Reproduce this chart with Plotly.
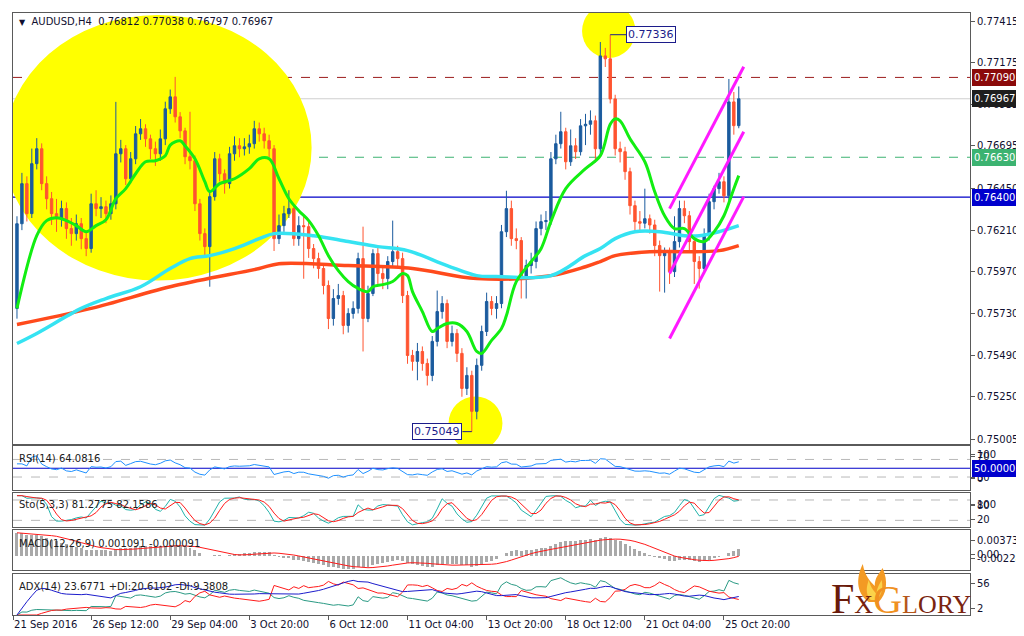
import numpy as np
import pandas as pd
import plotly.graph_objects as go

# ---------------- data ----------------
symbol_title = "AUDUSD,H4"
header_ohlc = ["0.76812", "0.77038", "0.76797", "0.76967"]

open_first = 0.75759
close = [0.76247, 0.76478, 0.76305, 0.76593, 0.76679, 0.76478, 0.76391, 0.76305, 0.76276, 0.76334,
         0.76219, 0.76190, 0.76247, 0.76161, 0.76104, 0.76362, 0.76334, 0.76345, 0.76305, 0.76362,
         0.76650, 0.76679, 0.76506, 0.76621, 0.76765, 0.76794, 0.76736, 0.76679, 0.76650, 0.76736,
         0.76909, 0.76978, 0.76863, 0.76782, 0.76633, 0.76610, 0.76362, 0.76190, 0.76115, 0.76403,
         0.76621, 0.76535, 0.76478, 0.76650, 0.76696, 0.76679, 0.76690, 0.76708, 0.76794, 0.76765,
         0.76725, 0.76679, 0.76161, 0.76236, 0.76305, 0.76334, 0.76161, 0.76236, 0.76230, 0.76104,
         0.76046, 0.75989, 0.75891, 0.75701, 0.75816, 0.75833, 0.75661, 0.75730, 0.75759, 0.76046,
         0.75701, 0.75845, 0.76075, 0.75960, 0.75931, 0.76029, 0.76086, 0.76046, 0.75833, 0.75488,
         0.75454, 0.75511, 0.75442, 0.75373, 0.75569, 0.75741, 0.75787, 0.75569, 0.75615, 0.75500,
         0.75298, 0.75373, 0.75166, 0.75431, 0.75626, 0.75799, 0.75759, 0.75787, 0.76201, 0.76334,
         0.76161, 0.76150, 0.75931, 0.76006, 0.76029, 0.76219, 0.76259, 0.76265, 0.76621, 0.76708,
         0.76777, 0.76604, 0.76696, 0.76662, 0.76811, 0.76820, 0.76840, 0.76679, 0.77214, 0.77197,
         0.76966, 0.76679, 0.76662, 0.76547, 0.76351, 0.76259, 0.76250, 0.76276, 0.76240, 0.76121,
         0.76063, 0.76080, 0.75971, 0.76144, 0.76334, 0.76293, 0.76144, 0.76029, 0.75989, 0.76178,
         0.76374, 0.76449, 0.76489, 0.76408, 0.76949, 0.76812, 0.76967]
high = [0.76290, 0.76540, 0.76520, 0.76680, 0.76740, 0.76710, 0.76520, 0.76430, 0.76390, 0.76380,
        0.76370, 0.76280, 0.76300, 0.76280, 0.76200, 0.76420, 0.76440, 0.76400, 0.76380, 0.76410,
        0.76949, 0.76730, 0.76700, 0.76660, 0.76810, 0.76850, 0.76820, 0.76760, 0.76720, 0.76790,
        0.76950, 0.77020, 0.77093, 0.76890, 0.76800, 0.76892, 0.76640, 0.76390, 0.76220, 0.76430,
        0.76660, 0.76650, 0.76560, 0.76690, 0.76750, 0.76740, 0.76740, 0.76760, 0.76840, 0.76830,
        0.76800, 0.76760, 0.76700, 0.76300, 0.76350, 0.76440, 0.76360, 0.76290, 0.76300, 0.76260,
        0.76130, 0.76080, 0.76010, 0.75920, 0.75870, 0.75900, 0.75860, 0.75760, 0.75800, 0.76080,
        0.76230, 0.75890, 0.76100, 0.76110, 0.76000, 0.76060, 0.76265, 0.76120, 0.76080, 0.75860,
        0.75520, 0.75560, 0.75540, 0.75470, 0.75600, 0.75862, 0.75830, 0.75810, 0.75660, 0.75640,
        0.75530, 0.75420, 0.75400, 0.75470, 0.75660, 0.75850, 0.75830, 0.75830, 0.76240, 0.76437,
        0.76380, 0.76220, 0.76170, 0.76040, 0.76080, 0.76260, 0.76300, 0.76320, 0.76660, 0.76760,
        0.76892, 0.76800, 0.76790, 0.76740, 0.76850, 0.76880, 0.76900, 0.76870, 0.77294, 0.77260,
        0.77336, 0.76990, 0.76720, 0.76690, 0.76570, 0.76380, 0.76320, 0.76449, 0.76300, 0.76270,
        0.76150, 0.76110, 0.76110, 0.76290, 0.76380, 0.76380, 0.76320, 0.76170, 0.76060, 0.76220,
        0.76420, 0.76466, 0.76540, 0.76520, 0.77081, 0.77006, 0.77038]
low = [0.75700, 0.76210, 0.76260, 0.76280, 0.76560, 0.76440, 0.76330, 0.76240, 0.76200, 0.76230,
       0.76160, 0.76120, 0.76150, 0.76100, 0.76060, 0.76080, 0.76290, 0.76280, 0.76250, 0.76270,
       0.76330, 0.76600, 0.76470, 0.76480, 0.76590, 0.76730, 0.76690, 0.76620, 0.76580, 0.76610,
       0.76700, 0.76880, 0.76830, 0.76740, 0.76590, 0.76560, 0.76320, 0.76150, 0.76060, 0.75884,
       0.76380, 0.76490, 0.76420, 0.76450, 0.76610, 0.76630, 0.76640, 0.76650, 0.76680, 0.76720,
       0.76680, 0.76630, 0.76090, 0.76130, 0.76200, 0.76280, 0.76120, 0.76120, 0.75930, 0.76050,
       0.75990, 0.75930, 0.75840, 0.75640, 0.75660, 0.75780, 0.75610, 0.75620, 0.75700, 0.75730,
       0.75511, 0.75680, 0.75830, 0.75900, 0.75870, 0.75870, 0.76000, 0.76000, 0.75790, 0.75440,
       0.75400, 0.75345, 0.75400, 0.75315, 0.75340, 0.75540, 0.75700, 0.75530, 0.75540, 0.75450,
       0.75250, 0.75260, 0.75049, 0.75120, 0.75400, 0.75600, 0.75720, 0.75700, 0.75760, 0.76170,
       0.76120, 0.76100, 0.75816, 0.75816, 0.75960, 0.75990, 0.76180, 0.76210, 0.76240, 0.76590,
       0.76680, 0.76560, 0.76580, 0.76620, 0.76640, 0.76700, 0.76760, 0.76600, 0.76640, 0.77150,
       0.76940, 0.76640, 0.76600, 0.76500, 0.76300, 0.76200, 0.76200, 0.76220, 0.76190, 0.76060,
       0.75856, 0.75850, 0.75900, 0.75940, 0.76110, 0.76250, 0.76080, 0.75900, 0.75873, 0.75960,
       0.76150, 0.76330, 0.76420, 0.76370, 0.76380, 0.76760, 0.76797]

# moving averages as drawn on the chart (bar index, price)
green_ma_bar = [0, 4, 6, 8, 10, 12, 14, 16, 18, 20, 22, 24, 26, 28, 30, 31, 33, 34, 36, 38, 39, 41, 44, 47,
                49, 51, 53, 55, 57, 59, 61, 63, 65, 67, 69, 71, 72, 74, 76, 78, 79, 80, 82, 84, 85, 87, 89,
                91, 93, 94, 96, 98, 99, 101, 104, 106, 108, 111, 115, 118, 120, 121, 122, 124, 127, 129,
                131, 133, 135, 137, 139, 141, 143, 145, 146]
green_ma_val = [0.75759, 0.76178, 0.76265, 0.76282, 0.76265, 0.76236, 0.76201, 0.76236, 0.76270, 0.76391,
                0.76449, 0.76535, 0.76604, 0.76610, 0.76639, 0.76700, 0.76725, 0.76696, 0.76621, 0.76489,
                0.76432, 0.76478, 0.76506, 0.76564, 0.76621, 0.76621, 0.76506, 0.76391, 0.76322, 0.76265,
                0.76178, 0.76063, 0.75977, 0.75914, 0.75874, 0.75856, 0.75884, 0.75896, 0.75914, 0.75960,
                0.75948, 0.75856, 0.75741, 0.75626, 0.75643, 0.75672, 0.75672, 0.75626, 0.75511, 0.75500,
                0.75575, 0.75643, 0.75718, 0.75913, 0.76028, 0.76103, 0.76259, 0.76449, 0.76564, 0.76639,
                0.76820, 0.76851, 0.76840, 0.76736, 0.76604, 0.76431, 0.76293, 0.76219, 0.76219, 0.76161,
                0.76144, 0.76200, 0.76293, 0.76449, 0.76524]
cyan_ma_bar = [0, 4, 13, 18, 25, 31, 35, 39, 44, 49, 52, 60, 67, 73, 79, 87, 93, 97, 108, 115, 118, 121,
               125, 130, 135, 138, 142, 146]
cyan_ma_val = [0.75557, 0.75615, 0.75759, 0.75816, 0.75884, 0.75989, 0.76046, 0.76063, 0.76104, 0.76161,
               0.76190, 0.76178, 0.76144, 0.76115, 0.76092, 0.76006, 0.75948, 0.75943, 0.75948, 0.76063,
               0.76104, 0.76161, 0.76201, 0.76201, 0.76178, 0.76178, 0.76201, 0.76236]
red_ma_bar = [0, 15, 32, 49, 53, 67, 80, 93, 108, 115, 118, 121, 128, 135, 142, 146]
red_ma_val = [0.75666, 0.75759, 0.75891, 0.75989, 0.76017, 0.76006, 0.75989, 0.75931, 0.75948, 0.75999,
              0.76029, 0.76063, 0.76086, 0.76086, 0.76092, 0.76121]

# horizontal levels on the chart
level_resist = 0.77090
level_bid = 0.76967
level_mid = 0.76630
level_support = 0.76400
swing_high = 0.77336
swing_high_bar = 120
swing_low = 0.75049
swing_low_bar = 92

# trend channel drawn by the analyst (bar index, price)
channel_bar = [132, 147]
channel_upper = [0.76334, 0.77151]
channel_middle = [0.75960, 0.76777]
channel_lower = [0.75586, 0.76403]

# highlighted zones (bar range, price range)
zone_big = ([-2.6, 59.6], [0.75920, 0.77450])
zone_low = ([87.3, 98.2], [0.74942, 0.75252])
zone_high = ([114.3, 125.1], [0.77202, 0.77513])

price_ticks = [0.77415, 0.77175, 0.76935, 0.76695, 0.76450, 0.76210, 0.75970, 0.75730, 0.75490, 0.75250, 0.75005]
time_tick_bars = [-0.8, 15, 31, 47, 63, 79, 95, 111, 127, 143]
time_tick_labels = ["21 Sep 2016", "26 Sep 12:00", "29 Sep 04:00", "3 Oct 20:00", "6 Oct 12:00",
                    "11 Oct 04:00", "13 Oct 20:00", "18 Oct 12:00", "21 Oct 04:00", "25 Oct 20:00"]

rsi_text = "RSI(14) 64.0816"
sto_text = "Sto(5,3,3) 81.2775 82.1586"
macd_text = "MACD(12,26,9) 0.001091 -0.000091"
adx_text = "ADX(14) 23.6771 +DI:20.6102 -DI:9.3808"
macd_ema_seed = (0.7628, 0.7588)   # prior EMA(12), EMA(26) levels before the first bar

# ---------------- indicators ----------------
n = len(close)
bars = list(range(n))
opens = [open_first] + close[:-1]
c = pd.Series(close)
h = pd.Series(high)
l = pd.Series(low)


def wilder(s, p):
    return s.ewm(alpha=1.0 / p, adjust=False).mean()


d = c.diff().fillna(0)
up = wilder(d.clip(lower=0), 14)
dn = wilder((-d).clip(lower=0), 14)
rsi = (100 - 100 / (1 + up / dn.replace(0, np.nan))).fillna(60)

ll = l.rolling(5, min_periods=1).min()
hh = h.rolling(5, min_periods=1).max()
k = 100 * (c - ll).rolling(3, min_periods=1).sum() / (hh - ll).rolling(3, min_periods=1).sum()
ds = k.rolling(3, min_periods=1).mean()


def ema(vals, p, seed):
    a = 2.0 / (p + 1)
    e = seed
    out = []
    for v in vals:
        e = e + a * (v - e)
        out.append(e)
    return out


macd = [float(a - b) for a, b in zip(ema(close, 12, macd_ema_seed[0]), ema(close, 26, macd_ema_seed[1]))]
signal = [float(v) for v in pd.Series(macd).rolling(9, min_periods=1).mean()]

pc = c.shift(1).fillna(open_first)
tr = pd.concat([h - l, (h - pc).abs(), (l - pc).abs()], axis=1).max(axis=1)
upm = h.diff().fillna(0)
dnm = (-l.diff()).fillna(0)
pdm = pd.Series(np.where((upm > dnm) & (upm > 0), upm, 0.0))
ndm = pd.Series(np.where((dnm > upm) & (dnm > 0), dnm, 0.0))
atr = wilder(tr, 14)
pdi = 100 * wilder(pdm, 14) / atr
ndi = 100 * wilder(ndm, 14) / atr
dx = (100 * (pdi - ndi).abs() / (pdi + ndi)).fillna(0)
adx = wilder(dx, 14)

# ---------------- layout geometry ----------------
PL, PR, PT, PB = 4, 968, 4, 607
FIRST_PX, BAR_PX = 8, 4.98


def fy(py):
    return (PB - py) / (PB - PT)


def fx(px):
    return (px - PL) / (PR - PL)


xr = [(PL - FIRST_PX) / BAR_PX, (PR - FIRST_PX) / BAR_PX]
panels = {"y": (4, 436), "y2": (438, 482), "y3": (485, 519), "y4": (522, 562), "y5": (566, 607)}
main_range = [0.774841 - 436 * 0.00005752, 0.774841 - 4 * 0.00005752]
adx_top = float(max(adx.max(), pdi.max(), ndi.max()))
ranges = {"y": main_range, "y2": [0, 100], "y3": [0, 100], "y4": [-0.0023, 0.0041],
          "y5": [0, adx_top * 1.1]}


def val_at(ax, py):
    top, bot = panels[ax]
    r0, r1 = ranges[ax]
    return r0 + (bot - py) / (bot - top) * (r1 - r0)


FONT = "DejaVu Sans"
INC = "#1b5b9e"
DEC = "#ff5430"
FRAME = "#5a5a5a"

fig = go.Figure()
fig.add_trace(go.Candlestick(
    x=bars, open=opens, high=high, low=low, close=close,
    increasing=dict(line=dict(color=INC, width=1), fillcolor=INC),
    decreasing=dict(line=dict(color=DEC, width=1), fillcolor=DEC),
    whiskerwidth=0, hoverinfo="skip", xaxis="x", yaxis="y", showlegend=False))
fig.add_trace(go.Scatter(x=red_ma_bar, y=red_ma_val, mode="lines",
                         line=dict(color="#ff4a1c", width=3.5, shape="spline"), xaxis="x", yaxis="y",
                         hoverinfo="skip", showlegend=False))
fig.add_trace(go.Scatter(x=cyan_ma_bar, y=cyan_ma_val, mode="lines",
                         line=dict(color="#35e3f2", width=3.5, shape="spline"), xaxis="x", yaxis="y",
                         hoverinfo="skip", showlegend=False))
fig.add_trace(go.Scatter(x=green_ma_bar, y=green_ma_val, mode="lines",
                         line=dict(color="#12ee12", width=3, shape="spline"), xaxis="x", yaxis="y",
                         hoverinfo="skip", showlegend=False))
for vals in (channel_upper, channel_middle, channel_lower):
    fig.add_trace(go.Scatter(x=channel_bar, y=vals, mode="lines", line=dict(color="#ff19ff", width=3),
                             xaxis="x", yaxis="y", hoverinfo="skip", showlegend=False))

# RSI
fig.add_trace(go.Scatter(x=bars, y=rsi, mode="lines", line=dict(color="#1e90ff", width=1),
                         xaxis="x2", yaxis="y2", hoverinfo="skip", showlegend=False))
# Stochastic
fig.add_trace(go.Scatter(x=bars, y=k, mode="lines", line=dict(color="#20b2aa", width=1),
                         xaxis="x3", yaxis="y3", hoverinfo="skip", showlegend=False))
fig.add_trace(go.Scatter(x=bars, y=ds, mode="lines", line=dict(color="#ff1a1a", width=1),
                         xaxis="x3", yaxis="y3", hoverinfo="skip", showlegend=False))
# MACD
fig.add_trace(go.Bar(x=bars, y=macd, base=0, marker=dict(color="#a9a9a9", line=dict(width=0)), width=0.6,
                     xaxis="x4", yaxis="y4", hoverinfo="skip", showlegend=False, cliponaxis=True))
fig.add_trace(go.Scatter(x=bars, y=signal, mode="lines", line=dict(color="#ff1a1a", width=1),
                         xaxis="x4", yaxis="y4", hoverinfo="skip", showlegend=False))
# ADX
fig.add_trace(go.Scatter(x=bars, y=pdi, mode="lines", line=dict(color="#2a9a84", width=1),
                         xaxis="x5", yaxis="y5", hoverinfo="skip", showlegend=False))
fig.add_trace(go.Scatter(x=bars, y=ndi, mode="lines", line=dict(color="#ff1a1a", width=1),
                         xaxis="x5", yaxis="y5", hoverinfo="skip", showlegend=False))
fig.add_trace(go.Scatter(x=bars, y=adx, mode="lines", line=dict(color="#1c1ccc", width=1),
                         xaxis="x5", yaxis="y5", hoverinfo="skip", showlegend=False))

shapes = []
for (bx, py_) in (zone_big, zone_low, zone_high):
    shapes.append(dict(type="circle", xref="x", yref="y", x0=bx[0], x1=bx[1], y0=py_[0], y1=py_[1],
                       fillcolor="#ffff00", line=dict(width=0), layer="below"))
shapes += [
    dict(type="line", xref="x domain", yref="y", x0=0, x1=1, y0=level_resist, y1=level_resist,
         line=dict(color="#9b1c1c", width=1, dash="dash"), layer="below"),
    dict(type="line", xref="x domain", yref="y", x0=0, x1=1, y0=level_bid, y1=level_bid,
         line=dict(color="#cfcfcf", width=1), layer="below"),
    dict(type="line", xref="x domain", yref="y", x0=0, x1=1, y0=level_mid, y1=level_mid,
         line=dict(color="#3cb371", width=1, dash="dash"), layer="below"),
    dict(type="line", xref="x domain", yref="y", x0=0, x1=1, y0=level_support, y1=level_support,
         line=dict(color="#0000c8", width=1.2), layer="below"),
    dict(type="line", xref="x2 domain", yref="y2", x0=0, x1=1, y0=70, y1=70,
         line=dict(color="#b8b8b8", width=1, dash="dash"), layer="below"),
    dict(type="line", xref="x2 domain", yref="y2", x0=0, x1=1, y0=30, y1=30,
         line=dict(color="#b8b8b8", width=1, dash="dash"), layer="below"),
    dict(type="line", xref="x2 domain", yref="y2", x0=0, x1=1, y0=50, y1=50,
         line=dict(color="#0000c8", width=1.2), layer="below"),
    dict(type="line", xref="x3 domain", yref="y3", x0=0, x1=1, y0=80, y1=80,
         line=dict(color="#b8b8b8", width=1, dash="dash"), layer="below"),
    dict(type="line", xref="x3 domain", yref="y3", x0=0, x1=1, y0=20, y1=20,
         line=dict(color="#b8b8b8", width=1, dash="dash"), layer="below"),
    # connectors of the swing labels
    dict(type="line", xref="x", yref="y", x0=swing_high_bar, x1=swing_high_bar + 3.2,
         y0=swing_high, y1=swing_high, line=dict(color="#1c1c8a", width=1)),
    dict(type="line", xref="x", yref="y", x0=swing_low_bar - 1.9, x1=swing_low_bar,
         y0=swing_low, y1=swing_low, line=dict(color="#1c1c8a", width=1)),
]


# flame of the logo above the "G" (decoration: pixel outline converted to paper coordinates)
def pts(seq):
    return " ".join(f"{fx(px):.5f},{fy(py):.5f}" for px, py in seq)


flame_outer = ("M " + pts([(866, 594)]) + " C " + pts([(852, 584), (854, 568), (860, 556)]) +
               " C " + pts([(862, 568), (868, 574), (872, 578)]) +
               " C " + pts([(872, 570), (876, 566), (880, 560)]) +
               " C " + pts([(886, 574), (884, 586), (876, 594)]) + " Z")
flame_inner = ("M " + pts([(868, 592)]) + " C " + pts([(862, 586), (864, 578), (866, 572)]) +
               " C " + pts([(868, 580), (872, 584), (874, 586)]) +
               " C " + pts([(874, 580), (877, 576), (879, 572)]) +
               " C " + pts([(881, 582), (878, 588), (874, 592)]) + " Z")
shapes.append(dict(type="path", xref="paper", yref="paper", path=flame_outer,
                   fillcolor="#f39a24", line=dict(width=0)))
shapes.append(dict(type="path", xref="paper", yref="paper", path=flame_inner,
                   fillcolor="#fbd24a", line=dict(width=0)))

annotations = []
# price label boxes on the right
for val, bg in ((level_resist, "#8b0a0a"), (level_bid, "#1e1e1e"), (level_mid, "#3cb371"),
                (level_support, "#0000cd")):
    annotations.append(dict(xref="paper", yref="y", x=1, y=val, xanchor="left", xshift=2,
                            text=f"{val:.5f}", showarrow=False, bgcolor=bg, bordercolor=bg,
                            borderpad=1, width=54, height=13, align="left",
                            font=dict(family=FONT, size=10, color="white")))
annotations.append(dict(xref="paper", yref="y2", x=1, y=50, xanchor="left", xshift=2,
                        text="50.0000", showarrow=False, bgcolor="#0000cd", bordercolor="#0000cd",
                        borderpad=1, width=54, height=13, align="left",
                        font=dict(family=FONT, size=10, color="white")))
# swing labels
annotations.append(dict(xref="x", yref="y", x=swing_high_bar + 3.2, y=swing_high, xanchor="left",
                        text=f"{swing_high:.5f}", showarrow=False, bgcolor="white", bordercolor="#1c1c8a",
                        borderwidth=1, borderpad=1, font=dict(family=FONT, size=11, color="#1c1c8a")))
annotations.append(dict(xref="x", yref="y", x=swing_low_bar - 1.9, y=swing_low, xanchor="right",
                        text=f"{swing_low:.5f}", showarrow=False, bgcolor="white", bordercolor="#1c1c8a",
                        borderwidth=1, borderpad=1, font=dict(family=FONT, size=11, color="#1c1c8a")))
# header and indicator titles
annotations.append(dict(xref="paper", yref="paper", x=fx(8), y=fy(13), xanchor="left", yanchor="middle",
                        text="<span style='font-size:8px'>▼</span>  " + symbol_title + "  " + " ".join(header_ohlc),
                        showarrow=False, font=dict(family=FONT, size=10, color="#101030")))
for txt, py in ((rsi_text, 450), (sto_text, 496), (macd_text, 535), (adx_text, 578)):
    annotations.append(dict(xref="paper", yref="paper", x=fx(8), y=fy(py), xanchor="left",
                            yanchor="middle", text=txt, showarrow=False,
                            font=dict(family=FONT, size=10, color="#202020")))
# logo
annotations.append(dict(xref="paper", yref="paper", x=fx(826), y=fy(616), xanchor="left", yanchor="bottom",
                        text="<span style='font-size:42px;color:#6a1a0a'>F</span>"
                             "<span style='font-size:26px;color:#761f0e'>X</span>"
                             "<span style='font-size:40px;color:#f09020'>G</span>"
                             "<span style='font-size:26px;color:#b5561a'>L</span>"
                             "<span style='font-size:26px;color:#7a2410'>ORY</span>",
                        showarrow=False, font=dict(family="Liberation Serif", size=26)))


def ind_ticks(ax, items):
    return dict(tickvals=[val_at(ax, py) for _, py in items], ticktext=[t for t, _ in items])


yaxis_common = dict(side="right", showgrid=False, zeroline=False, showline=True, mirror=True,
                    linecolor=FRAME, linewidth=1, ticks="outside", ticklen=4, tickcolor=FRAME,
                    tickfont=dict(family=FONT, size=10, color="#101030"), fixedrange=True)
xaxis_common = dict(range=xr, showgrid=False, zeroline=False, showline=True, mirror=True,
                    linecolor=FRAME, linewidth=1, showticklabels=False, ticks="", fixedrange=True)

layout = dict(
    width=1024, height=636, paper_bgcolor="white", plot_bgcolor="white",
    margin=dict(l=PL, r=1024 - PR, t=PT, b=636 - PB),
    showlegend=False, bargap=0, dragmode=False,
    shapes=shapes, annotations=annotations,
)
for i, ax in enumerate(["y", "y2", "y3", "y4", "y5"]):
    xname = "xaxis" if i == 0 else f"xaxis{i + 1}"
    yname = "yaxis" if i == 0 else f"yaxis{i + 1}"
    xa = "x" if i == 0 else f"x{i + 1}"
    top, bot = panels[ax]
    xd = dict(xaxis_common, anchor=ax, domain=[0, 1])
    if i == 0:
        xd["rangeslider"] = dict(visible=False)
    if i == 4:
        xd.update(tickvals=time_tick_bars, ticktext=time_tick_labels, showticklabels=True, ticks="outside",
                  ticklen=4, tickcolor=FRAME, ticklabelposition="outside right",
                  tickfont=dict(family=FONT, size=10, color="#101030"))
    layout[xname] = xd
    yd = dict(yaxis_common, anchor=xa, domain=[fy(bot), fy(top)], range=ranges[ax])
    if i == 0:
        yd.update(tickvals=price_ticks, ticktext=[f"{v:.5f}" for v in price_ticks])
    elif i == 1:
        yd.update(ind_ticks(ax, [("100", 446), ("70", 448), ("30", 469), ("0", 470)]))
    elif i == 2:
        yd.update(ind_ticks(ax, [("100", 496), ("80", 497), ("20", 511), ("0", 511)]))
    elif i == 3:
        yd.update(ind_ticks(ax, [("0.003734", 532), ("0.00", 546), ("-0.002287", 550)]))
    else:
        yd.update(ind_ticks(ax, [("56", 575), ("2", 600)]))
    layout[yname] = yd

fig.update_layout(**layout)
fig.write_html("out.html", config={"displayModeBar": False, "staticPlot": True})
